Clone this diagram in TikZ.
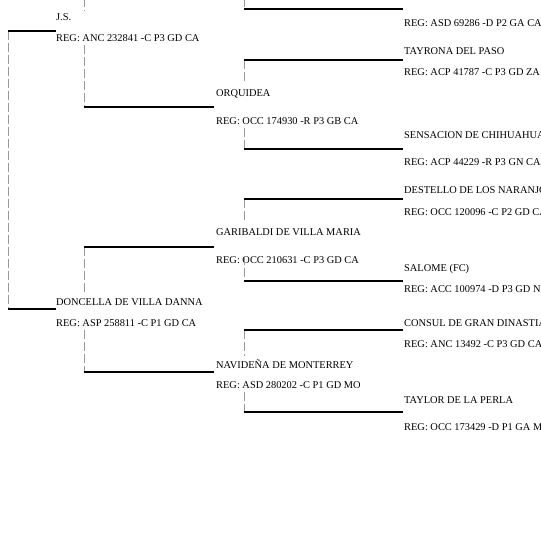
\documentclass[tikz,border=0pt]{standalone}
\usepackage{fontspec}
\setmainfont{Liberation Serif}
\usetikzlibrary{positioning}

\begin{document}
\begin{tikzpicture}[x=1pt,y=-1pt,font=\fontsize{10.4}{12}\selectfont,
  lbl/.style={anchor=west,inner sep=0pt,text height=7pt,text depth=0pt},
  link/.style={gray!80,line width=0.8pt,dash pattern=on 9pt off 3pt},
  bar/.style={black,line width=1.1pt}]
  \useasboundingbox (0,0) rectangle (540,540);
  \clip (0,0) rectangle (540,540);

  % generation 1
  \node[lbl] (js) at (56,17) {J.S.};
  \node[lbl] (js-reg) at (56,38) {REG: ANC 232841 -C P3 GD CA};
  \node[lbl] (doncella) at (56,302) {DONCELLA DE VILLA DANNA};
  \node[lbl] (doncella-reg) at (56,323) {REG: ASP 258811 -C P1 GD CA};

  % generation 2
  \node[lbl] (orquidea) at (216,93) {ORQUIDEA};
  \node[lbl] (orquidea-reg) at (216,121) {REG: OCC 174930 -R P3 GB CA};
  \node[lbl] (garibaldi) at (216,232) {GARIBALDI DE VILLA MARIA};
  \node[lbl] (garibaldi-reg) at (216,260) {REG: OCC 210631 -C P3 GD CA};
  \node[lbl] (navidena) at (216,365) {NAVIDEÑA DE MONTERREY};
  \node[lbl] (navidena-reg) at (216,385) {REG: ASD 280202 -C P1 GD MO};

  % generation 3
  \node[lbl] (top-reg) at (404,23) {REG: ASD 69286 -D P2 GA CA};
  \node[lbl] (tayrona) at (404,51) {TAYRONA DEL PASO};
  \node[lbl] (tayrona-reg) at (404,72) {REG: ACP 41787 -C P3 GD ZA};
  \node[lbl] (sensacion) at (404,135) {SENSACION DE CHIHUAHUA};
  \node[lbl] (sensacion-reg) at (404,162) {REG: ACP 44229 -R P3 GN CA};
  \node[lbl] (destello) at (404,190) {DESTELLO DE LOS NARANJOS};
  \node[lbl] (destello-reg) at (404,212) {REG: OCC 120096 -C P2 GD CA};
  \node[lbl] (salome) at (404,268) {SALOME (FC)};
  \node[lbl] (salome-reg) at (404,289) {REG: ACC 100974 -D P3 GD N};
  \node[lbl] (consul) at (404,323) {CONSUL DE GRAN DINASTIA};
  \node[lbl] (consul-reg) at (404,344) {REG: ANC 13492 -C P3 GD CA};
  \node[lbl] (taylor) at (404,400) {TAYLOR DE LA PERLA};
  \node[lbl] (taylor-reg) at (404,427) {REG: OCC 173429 -D P1 GA M};

  % line corners
  \coordinate (a1) at (8,31);    \coordinate (a2) at (56,31);
  \coordinate (a3) at (8,309);   \coordinate (a4) at (56,309);
  \coordinate (b0) at (84,-2);   \coordinate (b1) at (84,11);
  \coordinate (b2) at (84,45);   \coordinate (b3) at (84,107);  \coordinate (b4) at (214,107);
  \coordinate (b5) at (84,247);  \coordinate (b6) at (214,247); \coordinate (b7) at (84,292);
  \coordinate (b8) at (84,330);  \coordinate (b9) at (84,372);  \coordinate (b10) at (214,372);
  \coordinate (c0) at (244,-2);  \coordinate (c1) at (244,9);   \coordinate (c2) at (403,9);
  \coordinate (c3) at (244,60);  \coordinate (c4) at (403,60);  \coordinate (c5) at (244,84);
  \coordinate (c6) at (244,128); \coordinate (c7) at (244,149); \coordinate (c8) at (403,149);
  \coordinate (c9) at (244,199); \coordinate (c10) at (403,199); \coordinate (c11) at (244,222);
  \coordinate (c12) at (244,256); \coordinate (c13) at (244,281); \coordinate (c14) at (403,281);
  \coordinate (c15) at (244,330); \coordinate (c16) at (403,330); \coordinate (c17) at (244,356);
  \coordinate (c18) at (244,392); \coordinate (c19) at (244,412); \coordinate (c20) at (403,412);

  % dashed links
  \draw[link] (a1) -- (a3);
  \draw[link] (b0) -- (b1);
  \draw[link] (b2) -- (b3);
  \draw[link] (b5) -- (b7);
  \draw[link] (b8) -- (b9);
  \draw[link] (c0) -- (c1);
  \draw[link] (c3) -- (c5);
  \draw[link] (c6) -- (c7);
  \draw[link] (c9) -- (c11);
  \draw[link] (c12) -- (c13);
  \draw[link] (c15) -- (c17);
  \draw[link] (c18) -- (c19);

  % solid bars
  \draw[bar] (a1) -- (a2);
  \draw[bar] (a3) -- (a4);
  \draw[bar] (b3) -- (b4);
  \draw[bar] (b5) -- (b6);
  \draw[bar] (b9) -- (b10);
  \draw[bar] (c1) -- (c2);
  \draw[bar] (c3) -- (c4);
  \draw[bar] (c7) -- (c8);
  \draw[bar] (c9) -- (c10);
  \draw[bar] (c13) -- (c14);
  \draw[bar] (c15) -- (c16);
  \draw[bar] (c19) -- (c20);
\end{tikzpicture}
\end{document}
